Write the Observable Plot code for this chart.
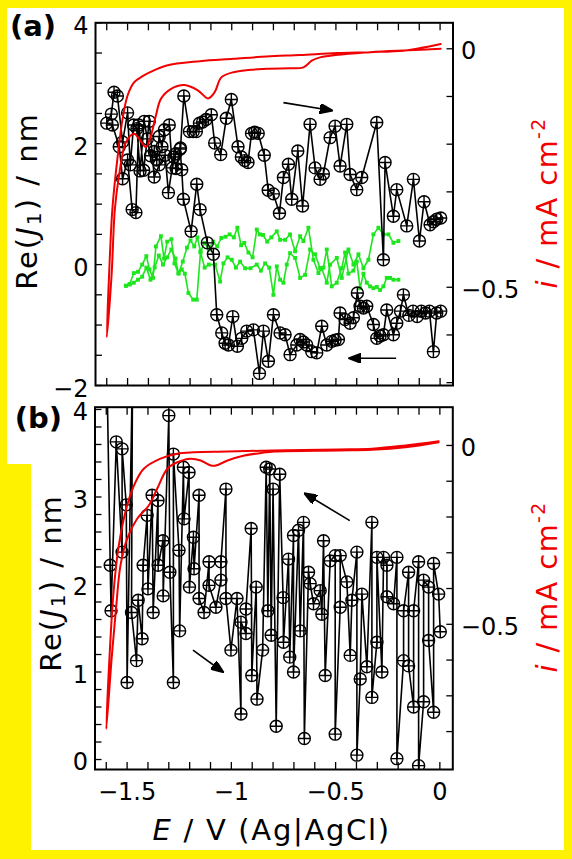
<!DOCTYPE html>
<html>
<head>
<meta charset="utf-8">
<script src="https://cdn.jsdelivr.net/npm/d3@7"></script>
<script src="https://cdn.jsdelivr.net/npm/@observablehq/plot@0.6"></script>
<style>
  html, body { margin:0; padding:0; background:#fff200; }
  #wrap { position:relative; width:572px; height:859px; overflow:hidden; background:#fff200; font-family:"DejaVu Sans", sans-serif; color:#000; }
  .white { position:absolute; background:#fff; }
  .layer { position:absolute; left:0; width:572px; }
  .layer svg { position:absolute; left:0; top:0; overflow:visible; }
  .lab { position:absolute; white-space:nowrap; line-height:1; font-size:29px; }
  .rot { transform: translate(-50%,-50%) rotate(-90deg); }
  .lab sub { font-size:0.7em; vertical-align:-0.22em; line-height:0; }
  .lab sup { font-size:0.65em; vertical-align:0.6em; line-height:0; }
  .plab { position:absolute; font-weight:bold; font-size:29px; line-height:1; white-space:nowrap; }
</style>
</head>
<body>
<div id="wrap">
  <div class="white" style="left:7px;top:8px;width:557px;height:456px"></div>
  <div class="white" style="left:31px;top:463px;width:533px;height:387px"></div>
  <div id="pa" class="layer" style="top:0px;height:420px"></div>
  <div id="pb" class="layer" style="top:390px;height:469px"></div>
  <div class="plab" style="left:10px;top:11.7px">(a)</div>
  <div class="plab" style="left:14.7px;top:403.7px">(b)</div>
  <div class="lab rot" style="left:26.5px;top:201px;letter-spacing:2px">Re(<i>J</i><sub>1</sub>) / nm</div>
  <div class="lab rot" style="left:50.5px;top:583px;letter-spacing:2px">Re(<i>J</i><sub>1</sub>) / nm</div>
  <div class="lab rot" style="left:547px;top:203px;letter-spacing:1.3px;color:#f00000"><i>i</i> / mA cm<sup>-2</sup></div>
  <div class="lab rot" style="left:547px;top:587px;letter-spacing:1.3px;color:#f00000"><i>i</i> / mA cm<sup>-2</sup></div>
  <div class="lab" style="left:271.7px;top:816.2px;transform:translateX(-50%);letter-spacing:1.7px"><i>E</i> / V (Ag|AgCl)</div>
</div>
<script>
// ---------------- data ----------------
// shared x axis
const xDomain = [-1.654, 0.062];
const xTicks = [-1.6,-1.5,-1.4,-1.3,-1.2,-1.1,-1.0,-0.9,-0.8,-0.7,-0.6,-0.5,-0.4,-0.3,-0.2,-0.1,0];
const xTickLabels = [-1.5,-1,-0.5,0];

// panel (a) axes
const aLeftDomain = [-2, 4];
const aLeftTicks = [-2,-1.5,-1,-0.5,0,0.5,1,1.5,2,2.5,3,3.5,4];
const aLeftLabels = [-2,0,2,4];
const aRightDomain = [-0.706, 0.0545];
const aRightTicks = [-0.7,-0.6,-0.5,-0.4,-0.3,-0.2,-0.1,0];
const aRightLabels = [-0.5,0];

// panel (b) axes
const bLeftDomain = [-0.114, 4.026];
const bLeftTicks = [0,0.2,0.4,0.6,0.8,1,1.2,1.4,1.6,1.8,2,2.2,2.4,2.6,2.8,3,3.2,3.4,3.6,3.8,4];
const bLeftLabels = [0,1,2,3,4];
const bRightDomain = [-0.906, 0.107];
const bRightTicks = [-0.8,-0.7,-0.6,-0.5,-0.4,-0.3,-0.2,-0.1,0];
const bRightLabels = [-0.5,0];

// panel (a) black Re(J1): reverse sweep (0 -> -1.6) then forward sweep (-1.6 -> 0)
const aBlackE = [0.003,-0.016,-0.032,-0.051,-0.07,-0.09,-0.11,-0.13,-0.15,-0.176,-0.19,-0.208,-0.224,-0.256,-0.272,-0.288,-0.304,-0.32,-0.352,-0.368,-0.384,-0.397,-0.416,-0.432,-0.456,-0.48,-0.488,-0.504,-0.52,-0.544,-0.568,-0.592,-0.616,-0.64,-0.656,-0.672,-0.688,-0.72,-0.744,-0.768,-0.80,-0.824,-0.848,-0.867,-0.896,-0.928,-0.952,-0.973,-0.995,-1.016,-1.032,-1.048,-1.072,-1.088,-1.117,-1.152,-1.168,-1.195,-1.232,-1.24,-1.248,-1.267,-1.278,-1.304,-1.32,-1.348,-1.372,-1.396,-1.423,-1.447,-1.46,-1.478,-1.50,-1.524,-1.54,-1.573,-1.60,
  -1.578,-1.565,-1.549,-1.524,-1.50,-1.487,-1.471,-1.455,-1.44,-1.42,-1.405,-1.39,-1.372,-1.36,-1.348,-1.335,-1.323,-1.30,-1.285,-1.27,-1.246,-1.23,-1.203,-1.185,-1.17,-1.155,-1.14,-1.123,-1.098,-1.082,-1.053,-1.026,-1.002,-0.97,-0.954,-0.938,-0.922,-0.905,-0.89,-0.873,-0.844,-0.825,-0.80,-0.771,-0.752,-0.728,-0.712,-0.683,-0.66,-0.624,-0.60,-0.576,-0.56,-0.528,-0.504,-0.48,-0.448,-0.432,-0.40,-0.376,-0.304,-0.272,-0.264,-0.224,-0.208,-0.16,-0.128,-0.099,-0.077,-0.048,-0.032,-0.016,0.003];
const aBlackRe = [-0.77,-0.80,-1.44,-0.77,-0.80,-0.77,-0.86,-0.77,-0.84,-0.50,-0.77,-0.97,-1.16,-0.75,-1.16,-1.18,-1.22,-0.99,-0.69,-0.72,-0.69,-0.47,-0.88,-0.97,-0.91,-0.80,-1.24,-1.25,-1.27,-1.33,-1.02,-1.46,-1.44,-1.33,-1.28,-1.24,-1.33,-1.49,-1.16,-1.13,-0.83,-1.60,-1.10,-1.80,-1.08,-1.10,-1.22,-1.35,-0.86,-1.33,-1.30,-1.13,-0.83,0.17,0.36,0.91,1.33,0.55,1.08,1.57,1.91,1.59,1.78,1.19,1.81,1.65,1.45,2.37,1.56,2.31,0.86,0.91,1.73,1.42,1.95,2.31,2.34,
  2.49,2.85,2.79,2.03,2.51,1.65,2.31,2.25,1.55,2.37,2.08,1.80,1.87,1.73,2.12,1.95,2.23,2.31,1.60,1.83,1.93,2.79,2.20,2.20,2.20,2.34,2.36,2.40,2.48,2.01,1.82,2.42,2.73,1.95,1.78,1.72,1.69,2.17,2.19,2.17,1.81,1.23,1.17,0.85,1.44,1.66,1.08,1.88,0.97,2.32,1.60,1.41,1.50,2.10,2.29,1.63,2.32,1.49,1.24,1.44,2.35,0.08,1.69,0.80,1.24,0.64,1.41,0.39,1.04,0.66,0.71,0.75,0.77];

// panel (a) green reference traces
const aGreen1E = [-1.508,-1.49,-1.47,-1.45,-1.43,-1.41,-1.395,-1.378,-1.364,-1.34,-1.325,-1.31,-1.29,-1.275,-1.255,-1.235,-1.215,-1.198,-1.18,-1.165,-1.15,-1.13,-1.11,-1.09,-1.07,-1.05,-1.03,-1.01,-0.99,-0.973,-0.955,-0.94,-0.92,-0.90,-0.88,-0.865,-0.85,-0.83,-0.81,-0.784,-0.768,-0.744,-0.72,-0.696,-0.672,-0.656,-0.632,-0.608,-0.584,-0.568,-0.544,-0.528,-0.496,-0.472,-0.44,-0.416,-0.392,-0.368,-0.344,-0.32,-0.296,-0.272,-0.248,-0.224,-0.20];
const aGreen1Re = [-0.35,-0.32,-0.14,-0.12,0.0,0.14,-0.08,-0.22,0.30,0.47,0.10,0.38,0.42,0.02,-0.15,0.05,0.28,0.40,0.30,0.45,0.22,0.36,0.25,0.38,0.30,0.44,0.46,0.50,0.45,0.61,0.32,0.36,0.20,0.12,0.58,0.50,0.49,0.38,0.45,0.55,0.41,0.41,0.50,0.22,0.47,0.39,0.61,0.08,-0.14,-0.06,-0.30,0.0,0.11,-0.22,0.25,0.0,0.17,-0.06,0.08,0.50,0.61,0.50,0.50,0.36,0.39];
const aGreen2E = [-0.20,-0.224,-0.24,-0.256,-0.272,-0.288,-0.304,-0.32,-0.336,-0.352,-0.368,-0.384,-0.40,-0.416,-0.44,-0.456,-0.472,-0.496,-0.52,-0.544,-0.56,-0.576,-0.60,-0.624,-0.648,-0.672,-0.696,-0.72,-0.736,-0.752,-0.768,-0.784,-0.80,-0.82,-0.84,-0.86,-0.88,-0.91,-0.936,-0.96,-0.98,-1.0,-1.02,-1.04,-1.056,-1.08,-1.11,-1.13,-1.15,-1.168,-1.185,-1.208,-1.225,-1.24,-1.256,-1.27,-1.29,-1.31,-1.33,-1.35,-1.37,-1.39,-1.41,-1.43,-1.45,-1.47,-1.49,-1.508];
const aGreen2Re = [-0.25,-0.25,-0.22,-0.22,-0.36,-0.42,-0.37,-0.39,-0.36,-0.30,-0.15,-0.39,0.05,-0.10,-0.15,0.20,-0.06,-0.30,-0.36,0.25,-0.05,-0.06,0.17,0.25,-0.17,-0.22,0.11,0.19,0.0,-0.30,-0.25,-0.03,-0.50,-0.05,0.02,-0.10,0.0,-0.06,-0.06,0.05,-0.05,0.08,0.12,0.02,-0.28,0.0,0.0,-0.05,0.20,-0.58,-0.58,-0.47,-0.15,-0.08,-0.14,0.10,0.25,0.12,0.0,0.15,-0.05,-0.25,-0.05,-0.20,-0.25,-0.30,-0.33,-0.35];

// panel (a) red cyclic voltammogram (right axis)
const aRedE = [0.003,-0.10,-0.176,-0.336,-0.496,-0.672,-0.832,-0.992,-1.152,-1.312,-1.392,-1.43,-1.468,-1.50,-1.524,-1.549,-1.573,-1.589,-1.60,-1.577,-1.561,-1.541,-1.508,-1.468,-1.444,-1.412,-1.388,-1.364,-1.34,-1.291,-1.227,-1.163,-1.114,-1.082,-1.05,-0.992,-0.832,-0.72,-0.656,-0.616,-0.576,-0.336,-0.15,0.003];
const aRedI = [0.010,0.001,-0.004,-0.007,-0.009,-0.013,-0.016,-0.021,-0.026,-0.035,-0.049,-0.058,-0.070,-0.098,-0.147,-0.231,-0.336,-0.476,-0.605,-0.476,-0.336,-0.266,-0.196,-0.178,-0.189,-0.206,-0.182,-0.140,-0.105,-0.084,-0.076,-0.087,-0.104,-0.091,-0.060,-0.049,-0.042,-0.041,-0.039,-0.025,-0.018,-0.007,-0.003,0.000];

// panel (a) arrows
const aArrowX1 = [-0.752,-0.211], aArrowY1 = [2.68,-1.55];
const aArrowX2 = [-0.52,-0.435],  aArrowY2 = [2.55,-1.55];

// panel (b) black Re(J1)
const bBlackE = [-1.598,-1.581,-1.577,-1.552,-1.524,-1.524,-1.504,-1.50,-1.474,-1.479,-1.455,-1.447,-1.428,-1.423,-1.404,-1.40,-1.38,-1.375,-1.352,-1.351,-1.328,-1.327,-1.30,-1.295,-1.278,-1.278,-1.251,-1.248,-1.23,-1.227,-1.203,-1.201,-1.182,-1.179,-1.155,-1.155,-1.131,-1.107,-1.107,-1.074,-1.05,-1.05,-1.026,-1.026,-1.002,-0.973,-0.954,-0.954,-0.93,-0.93,-0.905,-0.902,-0.881,-0.877,-0.85,-0.833,-0.825,-0.816,-0.809,-0.80,-0.785,-0.768,-0.752,-0.75,-0.726,-0.72,-0.702,-0.702,-0.678,-0.67,-0.654,-0.65,-0.63,-0.622,-0.606,-0.574,-0.566,-0.558,-0.55,-0.526,-0.502,-0.502,-0.478,-0.478,-0.446,-0.43,-0.422,-0.398,-0.398,-0.382,-0.374,-0.35,-0.326,-0.326,-0.302,-0.302,-0.278,-0.27,-0.254,-0.254,-0.222,-0.206,-0.206,-0.174,-0.174,-0.15,-0.15,-0.126,-0.126,-0.102,-0.102,-0.078,-0.078,-0.054,-0.054,-0.03,-0.03,-0.006,0.002];
const bBlackRe = [4.6,2.22,1.70,3.63,2.37,3.55,2.91,0.88,4.5,1.68,1.13,1.82,1.38,2.22,2.79,1.95,3.02,1.68,2.96,2.22,2.50,1.87,3.93,2.14,0.88,3.49,2.39,1.47,3.34,2.75,3.28,1.97,2.54,2.18,3.02,1.84,1.68,2.26,1.99,1.74,2.05,2.26,3.09,1.84,1.25,1.84,0.52,1.57,1.44,1.72,2.64,0.96,1.97,0.69,1.25,3.34,1.70,3.32,1.42,3.09,0.38,3.26,1.85,1.34,2.29,1.17,2.56,1.00,2.62,1.47,2.71,0.24,2.14,2.01,1.78,1.93,1.66,2.50,0.96,2.27,2.33,0.29,1.74,2.33,2.03,1.19,1.82,2.37,0.05,0.92,1.89,1.06,2.71,0.71,1.34,2.31,1.00,2.31,2.22,1.86,1.78,2.31,0.01,1.13,1.70,2.14,1.07,0.60,1.70,2.26,-0.07,0.66,2.05,1.97,1.36,0.54,2.24,1.89,1.46];

// panel (b) red cyclic voltammogram (right axis)
const bRedE = [-0.006,-0.166,-0.326,-0.486,-0.806,-1.018,-1.18,-1.26,-1.34,-1.42,-1.46,-1.50,-1.54,-1.565,-1.584,-1.60,-1.573,-1.552,-1.532,-1.50,-1.452,-1.396,-1.356,-1.307,-1.259,-1.195,-1.147,-1.098,-1.074,-1.018,-0.938,-0.857,-0.793,-0.486,-0.326,-0.166,-0.006];
const bRedI = [0.012,0.0,-0.009,-0.011,-0.014,-0.017,-0.019,-0.023,-0.037,-0.065,-0.103,-0.168,-0.28,-0.41,-0.587,-0.793,-0.587,-0.448,-0.336,-0.261,-0.205,-0.168,-0.121,-0.065,-0.047,-0.037,-0.042,-0.056,-0.056,-0.042,-0.028,-0.021,-0.017,-0.014,-0.012,-0.005,0.009];

// panel (b) arrows
const bArrowX1 = [-1.184,-0.432], bArrowY1 = [1.25,2.73];
const bArrowX2 = [-1.04,-0.648],  bArrowY2 = [1.0,3.04];

// ---------------- drawing ----------------
const RED = "#f00000", GREEN = "#1ee61e";
const rows = (xs, ys) => xs.map((x, i) => ({x, y: ys[i]}));
const arrows = (x1, y1, x2, y2) => x1.map((d, i) => ({x1: d, y1: y1[i], x2: x2[i], y2: y2[i]}));
const fmt = d => d3.format("")(d);

const circlePlus = {
  draw(context, size) {
    const r = Math.sqrt(size / Math.PI);
    context.moveTo(r, 0);
    context.arc(0, 0, r, 0, 2 * Math.PI);
    context.moveTo(-r, 0); context.lineTo(r, 0);
    context.moveTo(0, -r); context.lineTo(0, r);
  }
};

function triHead(color) {
  const ns = "http://www.w3.org/2000/svg";
  const m = document.createElementNS(ns, "marker");
  m.setAttribute("viewBox", "0 -5 13 10");
  m.setAttribute("refX", "12");
  m.setAttribute("refY", "0");
  m.setAttribute("markerUnits", "userSpaceOnUse");
  m.setAttribute("markerWidth", "13");
  m.setAttribute("markerHeight", "10");
  m.setAttribute("orient", "auto");
  const p = document.createElementNS(ns, "path");
  p.setAttribute("d", "M0,-5L13,0L0,5Z");
  p.setAttribute("fill", color);
  m.appendChild(p);
  return m;
}
function arrowMark(data) {
  try {
    return Plot.link(data, {x1: "x1", y1: "y1", x2: "x2", y2: "y2", stroke: "black", strokeWidth: 1.6, markerEnd: triHead});
  } catch (e) {
    return Plot.link(data, {x1: "x1", y1: "y1", x2: "x2", y2: "y2", stroke: "black", strokeWidth: 1.6, markerEnd: "arrow"});
  }
}

const style = {background: "transparent", overflow: "visible", fontFamily: "DejaVu Sans", fontSize: "24px", color: "black"};
const tk = {stroke: "black", strokeWidth: 1.3, fill: "none", label: null};

function blackMarks(data, clip) {
  return [
    Plot.line(data, {x: "x", y: "y", stroke: "black", strokeWidth: 1.6, clip}),
    Plot.dot(data, {x: "x", y: "y", r: 6, symbol: circlePlus, stroke: "black", fill: "none", strokeWidth: 1.4, clip})
  ];
}

function makePanel(el, o) {
  const common = {
    width: 572, height: o.height,
    marginTop: o.mt, marginBottom: o.mb, marginLeft: o.ml, marginRight: o.mr,
    style
  };
  const left = Plot.plot({
    ...common,
    x: {domain: xDomain},
    y: {domain: o.leftDomain},
    marks: [
      ...o.under,
      ...blackMarks(o.black, o.clip),
      arrowMark(o.arrows),
      Plot.axisX(xTicks, {anchor: "bottom", tickSize: -7, ...tk}),
      Plot.axisX(xTicks, {anchor: "top", tickSize: -7, ...tk}),
      ...(o.xLabels ? [Plot.axisX(xTickLabels, {anchor: "bottom", tickSize: 0, tickPadding: 13, label: null, tickFormat: fmt, fontSize: 24})] : []),
      Plot.axisY(o.leftTicks, {anchor: "left", tickSize: -7, ...tk}),
      Plot.axisY(o.leftLabels, {anchor: "left", tickSize: 0, tickPadding: 7, label: null, tickFormat: fmt, fontSize: 24, dy: o.ldy}),
      Plot.frame({stroke: "black", strokeWidth: 2})
    ]
  });
  const right = Plot.plot({
    ...common,
    x: {domain: xDomain, axis: null},
    y: {domain: o.rightDomain},
    marks: [
      Plot.line(o.red, {x: "x", y: "y", stroke: RED, strokeWidth: 2, curve: "catmull-rom"}),
      Plot.axisY(o.rightTicks, {anchor: "right", tickSize: -7, ...tk}),
      Plot.axisY(o.rightLabels, {anchor: "right", tickSize: 0, tickPadding: 8, label: null, tickFormat: fmt, fontSize: 24, dy: 3})
    ]
  });
  el.append(left, right);
}

const aG1 = rows(aGreen1E, aGreen1Re), aG2 = rows(aGreen2E, aGreen2Re);
makePanel(document.getElementById("pa"), {
  height: 420, mt: 22.3, mb: 35, ml: 95, mr: 119.5,
  leftDomain: aLeftDomain, rightDomain: aRightDomain,
  leftTicks: aLeftTicks, leftLabels: aLeftLabels, ldy: 4,
  rightTicks: aRightTicks, rightLabels: aRightLabels,
  under: [
    Plot.line(aG1, {x: "x", y: "y", stroke: GREEN, strokeWidth: 1.6}),
    Plot.line(aG2, {x: "x", y: "y", stroke: GREEN, strokeWidth: 1.6}),
    Plot.dot(aG1, {x: "x", y: "y", symbol: "square", r: 2.2, fill: GREEN, stroke: "none"}),
    Plot.dot(aG2, {x: "x", y: "y", symbol: "square", r: 2.2, fill: GREEN, stroke: "none"})
  ],
  black: rows(aBlackE, aBlackRe), clip: false,
  red: rows(aRedE, aRedI),
  arrows: arrows(aArrowX1, aArrowY1, aArrowX2, aArrowY2),
  xLabels: false
});

makePanel(document.getElementById("pb"), {
  height: 469, mt: 16.7, mb: 90, ml: 94.5, mr: 119.7,
  leftDomain: bLeftDomain, rightDomain: bRightDomain,
  leftTicks: bLeftTicks, leftLabels: bLeftLabels, ldy: 3,
  rightTicks: bRightTicks, rightLabels: bRightLabels,
  under: [],
  black: rows(bBlackE, bBlackRe), clip: true,
  red: rows(bRedE, bRedI),
  arrows: arrows(bArrowX1, bArrowY1, bArrowX2, bArrowY2),
  xLabels: true
});
</script>
</body>
</html>
